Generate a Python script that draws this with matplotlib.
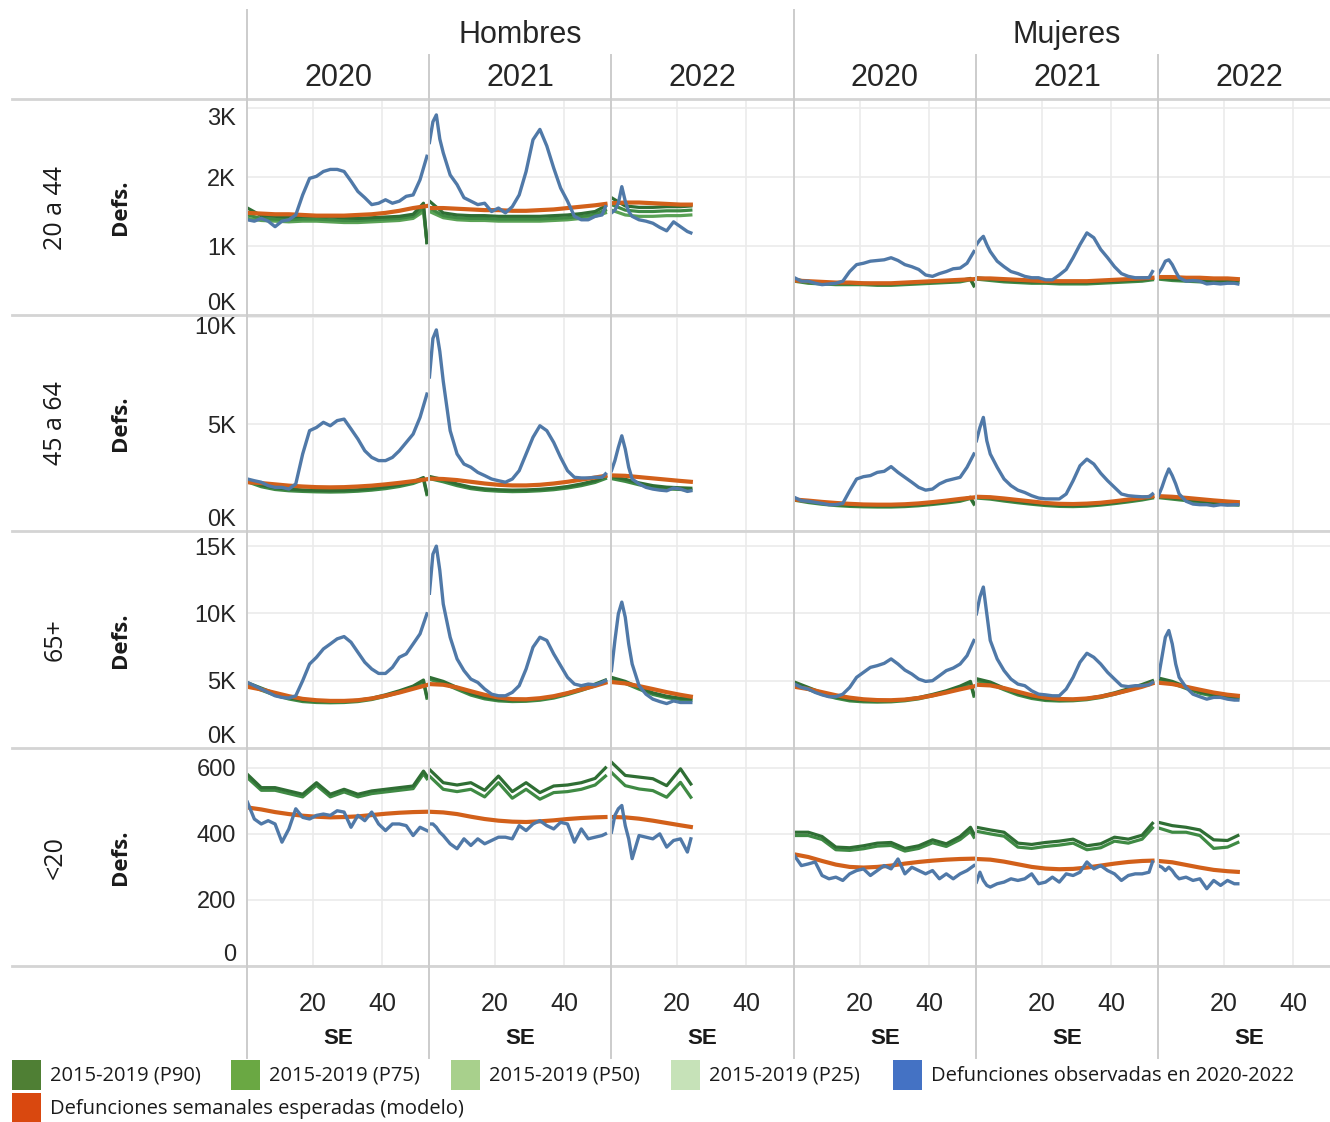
import matplotlib
matplotlib.use('Agg')
import matplotlib.pyplot as plt
from matplotlib.lines import Line2D
from matplotlib.patches import Rectangle

sexes = ['Hombres', 'Mujeres']
years = ['2020', '2021', '2022']
ages = ['20 a 44', '45 a 64', '65+', '<20']

# semanas epidemiologicas (SE) en que se leyo cada serie
weeks_obs = {
    '2020': list(range(1, 54, 2)),
    '2021': [1, 2, 3, 4] + list(range(5, 52, 2)) + [52],
    '2022': [1, 2, 3, 4, 5, 6] + list(range(7, 24, 2)) + [24],
}
weeks_ref = {
    '2020': list(range(1, 50, 4)) + [52, 53],
    '2021': list(range(1, 50, 4)) + [52],
    '2022': [1, 5, 9, 13, 17, 21, 24],
}
weeks_exp = {
    '2020': list(range(1, 50, 4)) + [53],
    '2021': list(range(1, 50, 4)) + [52],
    '2022': [1, 5, 9, 13, 17, 21, 24],
}

# ---- defunciones observadas (miles, excepto <20) : 2020 | 2021 | 2022
obs_h_20_44 = [1.38, 1.36, 1.40, 1.36, 1.28, 1.36, 1.38, 1.45, 1.74, 1.98, 2.01, 2.08, 2.11, 2.11, 2.08, 1.94,
               1.79, 1.70, 1.60, 1.62, 1.67, 1.62, 1.65, 1.72, 1.74, 1.96, 2.30,
               2.50, 2.80, 2.90, 2.55, 2.35, 2.03, 1.89, 1.70, 1.65, 1.60, 1.62, 1.50, 1.55, 1.48, 1.57,
               1.74, 2.08, 2.54, 2.69, 2.45, 2.13, 1.84, 1.65, 1.43, 1.38, 1.38, 1.43, 1.45, 1.57,
               1.48, 1.52, 1.62, 1.86, 1.65, 1.50, 1.43, 1.38, 1.36, 1.33, 1.27, 1.22, 1.35, 1.28, 1.21, 1.19]
obs_m_20_44 = [0.54, 0.49, 0.49, 0.46, 0.44, 0.45, 0.46, 0.49, 0.63, 0.73, 0.75, 0.78, 0.79, 0.80, 0.83, 0.79,
               0.73, 0.70, 0.66, 0.58, 0.56, 0.60, 0.63, 0.67, 0.68, 0.75, 0.92,
               1.02, 1.09, 1.14, 1.02, 0.92, 0.78, 0.70, 0.63, 0.60, 0.56, 0.54, 0.54, 0.51, 0.51, 0.58,
               0.66, 0.83, 1.02, 1.19, 1.12, 0.95, 0.83, 0.70, 0.60, 0.56, 0.54, 0.54, 0.54, 0.63,
               0.60, 0.68, 0.78, 0.80, 0.73, 0.63, 0.54, 0.49, 0.50, 0.49, 0.45, 0.46, 0.45, 0.46, 0.46, 0.45]
obs_h_45_64 = [2.43, 2.35, 2.28, 2.12, 2.04, 2.04, 1.96, 2.20, 3.60, 4.69, 4.84, 5.08, 4.92, 5.16, 5.23, 4.77,
               4.30, 3.75, 3.44, 3.29, 3.29, 3.44, 3.75, 4.14, 4.53, 5.31, 6.40,
               7.20, 9.00, 9.40, 8.40, 7.00, 4.69, 3.60, 3.13, 2.98, 2.74, 2.59, 2.43, 2.35, 2.28, 2.43,
               2.82, 3.60, 4.38, 4.92, 4.69, 4.14, 3.44, 2.82, 2.51, 2.48, 2.48, 2.51, 2.51, 2.67,
               2.82, 3.29, 3.91, 4.45, 3.83, 2.98, 2.43, 2.20, 2.04, 1.96, 1.91, 1.88, 2.01, 1.96, 1.85, 1.88]
obs_m_45_64 = [1.57, 1.42, 1.39, 1.34, 1.29, 1.23, 1.23, 1.29, 1.88, 2.43, 2.54, 2.59, 2.74, 2.79, 3.01, 2.74,
               2.51, 2.28, 2.04, 1.91, 1.96, 2.20, 2.35, 2.43, 2.51, 2.98, 3.60,
               4.22, 4.84, 5.31, 4.22, 3.60, 2.98, 2.43, 2.12, 1.91, 1.80, 1.65, 1.54, 1.50, 1.50, 1.50,
               1.73, 2.35, 3.05, 3.36, 3.13, 2.70, 2.35, 2.04, 1.73, 1.65, 1.62, 1.60, 1.60, 1.73,
               1.65, 2.04, 2.51, 2.90, 2.59, 2.20, 1.73, 1.39, 1.26, 1.23, 1.23, 1.18, 1.23, 1.21, 1.23, 1.23]
obs_h_65 = [4.87, 4.63, 4.38, 4.13, 3.88, 3.76, 3.71, 3.88, 5.00, 6.24, 6.74, 7.36, 7.73, 8.11, 8.28, 7.86,
            7.11, 6.37, 5.87, 5.54, 5.54, 5.99, 6.74, 6.99, 7.73, 8.48, 9.97,
            11.5, 14.4, 15.0, 13.2, 10.7, 8.23, 6.62, 5.75, 5.12, 4.87, 4.38, 4.00, 3.88, 3.88, 4.13,
            4.63, 5.87, 7.49, 8.23, 7.99, 6.99, 6.12, 5.25, 4.75, 4.63, 4.75, 4.70, 4.87, 5.00,
            5.75, 7.99, 9.97, 10.84, 9.72, 7.73, 6.24, 4.63, 4.00, 3.63, 3.45, 3.30, 3.50, 3.38, 3.38, 3.38]
obs_m_65 = [4.75, 4.50, 4.38, 4.13, 3.95, 3.81, 3.81, 4.00, 4.50, 5.25, 5.62, 5.99, 6.12, 6.29, 6.62, 6.24,
            5.79, 5.50, 5.12, 4.95, 5.00, 5.37, 5.75, 5.94, 6.24, 6.86, 7.99,
            9.97, 11.22, 11.96, 9.97, 7.99, 6.62, 5.75, 5.12, 4.75, 4.63, 4.25, 4.00, 3.95, 3.88, 3.88,
            4.38, 5.25, 6.37, 7.04, 6.74, 6.24, 5.62, 5.12, 4.63, 4.56, 4.63, 4.63, 4.70, 4.87,
            5.25, 6.74, 8.23, 8.73, 7.73, 6.24, 5.25, 4.50, 4.00, 3.81, 3.63, 3.76, 3.76, 3.63, 3.56, 3.56]
obs_h_u20 = [496, 445, 430, 440, 430, 375, 415, 476, 450, 445, 456, 460, 456, 470, 466, 420,
             456, 440, 466, 430, 410, 430, 430, 425, 395, 420, 410,
             430, 430, 420, 405, 395, 370, 355, 385, 365, 385, 370, 380, 390, 390, 385,
             425, 410, 430, 440, 425, 415, 435, 430, 375, 415, 385, 390, 395, 400,
             405, 456, 476, 486, 425, 385, 325, 395, 390, 385, 400, 360, 380, 385, 345, 385]
obs_m_u20 = [334, 304, 309, 315, 274, 264, 269, 259, 279, 289, 294, 274, 289, 304, 294, 324,
             279, 299, 289, 279, 289, 264, 279, 264, 279, 289, 304,
             254, 284, 259, 244, 239, 249, 254, 264, 259, 264, 279, 249, 254, 269, 254,
             279, 274, 284, 315, 294, 304, 289, 279, 259, 274, 279, 279, 284, 315,
             304, 299, 289, 299, 289, 274, 264, 269, 259, 264, 234, 259, 244, 259, 249, 249]

# ---- defunciones semanales esperadas (modelo)
exp_h_20_44 = [1.48, 1.47, 1.46, 1.46, 1.45, 1.44, 1.44, 1.44, 1.45, 1.46, 1.48, 1.51, 1.55, 1.58,
               1.55, 1.55, 1.54, 1.53, 1.52, 1.52, 1.51, 1.51, 1.52, 1.53, 1.55, 1.57, 1.59, 1.61,
               1.62, 1.63, 1.63, 1.62, 1.61, 1.60, 1.60]
exp_m_20_44 = [0.50, 0.49, 0.48, 0.47, 0.47, 0.46, 0.46, 0.46, 0.47, 0.48, 0.49, 0.50, 0.51, 0.52,
               0.53, 0.53, 0.52, 0.51, 0.50, 0.49, 0.49, 0.49, 0.49, 0.50, 0.51, 0.52, 0.53, 0.54,
               0.55, 0.55, 0.54, 0.54, 0.53, 0.53, 0.52]
exp_h_45_64 = [2.28, 2.24, 2.18, 2.12, 2.08, 2.05, 2.04, 2.05, 2.08, 2.12, 2.18, 2.25, 2.33, 2.42,
               2.45, 2.43, 2.38, 2.30, 2.22, 2.16, 2.13, 2.13, 2.16, 2.22, 2.30, 2.40, 2.50, 2.58,
               2.60, 2.58, 2.52, 2.46, 2.40, 2.34, 2.30]
exp_m_45_64 = [1.47, 1.42, 1.36, 1.31, 1.27, 1.24, 1.23, 1.23, 1.25, 1.29, 1.35, 1.42, 1.50, 1.57,
               1.60, 1.58, 1.52, 1.45, 1.38, 1.31, 1.27, 1.26, 1.28, 1.32, 1.39, 1.47, 1.55, 1.62,
               1.63, 1.60, 1.55, 1.49, 1.43, 1.38, 1.35]
exp_h_65 = [4.55, 4.35, 4.10, 3.85, 3.65, 3.55, 3.50, 3.50, 3.55, 3.68, 3.88, 4.12, 4.40, 4.68,
            4.75, 4.70, 4.50, 4.22, 3.95, 3.75, 3.63, 3.62, 3.70, 3.85, 4.08, 4.35, 4.62, 4.85,
            4.90, 4.80, 4.60, 4.38, 4.15, 3.95, 3.82]
exp_m_65 = [4.55, 4.38, 4.15, 3.92, 3.74, 3.62, 3.56, 3.55, 3.60, 3.72, 3.90, 4.12, 4.36, 4.58,
            4.70, 4.65, 4.45, 4.18, 3.92, 3.74, 3.64, 3.62, 3.68, 3.82, 4.03, 4.28, 4.55, 4.80,
            4.85, 4.75, 4.55, 4.33, 4.12, 3.96, 3.88]
exp_h_u20 = [480, 474, 466, 460, 455, 452, 450, 451, 453, 457, 461, 464, 466, 467,
             467, 465, 460, 452, 445, 440, 437, 436, 438, 441, 445, 448, 450, 451,
             451, 450, 446, 440, 433, 426, 421]
exp_m_u20 = [338, 330, 318, 307, 300, 298, 300, 304, 310, 315, 319, 322, 324, 325,
             324, 322, 316, 308, 300, 295, 293, 294, 298, 304, 310, 315, 318, 319,
             318, 314, 306, 298, 291, 287, 285]

# ---- percentiles 2015-2019
p90_h_20_44 = [1.55, 1.44, 1.43, 1.42, 1.43, 1.43, 1.42, 1.41, 1.40, 1.41, 1.42, 1.43, 1.46, 1.62, 1.05,
               1.65, 1.48, 1.45, 1.44, 1.44, 1.43, 1.43, 1.43, 1.43, 1.44, 1.45, 1.47, 1.50, 1.58,
               1.70, 1.58, 1.56, 1.56, 1.57, 1.57, 1.58]
p75_h_20_44 = [1.45, 1.40, 1.39, 1.38, 1.39, 1.39, 1.38, 1.37, 1.37, 1.38, 1.39, 1.40, 1.43, 1.55, 1.05,
               1.55, 1.44, 1.41, 1.40, 1.40, 1.39, 1.39, 1.39, 1.39, 1.40, 1.41, 1.43, 1.46, 1.52,
               1.60, 1.52, 1.50, 1.50, 1.51, 1.51, 1.52]
p50_h_20_44 = [1.40, 1.37, 1.36, 1.35, 1.36, 1.36, 1.35, 1.34, 1.34, 1.35, 1.36, 1.37, 1.40, 1.50, 1.05,
               1.50, 1.41, 1.38, 1.37, 1.37, 1.36, 1.36, 1.36, 1.36, 1.37, 1.38, 1.40, 1.43, 1.48,
               1.52, 1.45, 1.43, 1.43, 1.44, 1.44, 1.45]
p90_m_20_44 = [0.52, 0.48, 0.47, 0.46, 0.46, 0.46, 0.45, 0.45, 0.46, 0.47, 0.48, 0.49, 0.50, 0.53, 0.43,
               0.54, 0.52, 0.50, 0.49, 0.48, 0.48, 0.47, 0.47, 0.47, 0.48, 0.49, 0.50, 0.51, 0.53,
               0.54, 0.52, 0.51, 0.50, 0.50, 0.50, 0.50]
p75_m_20_44 = [0.49, 0.46, 0.45, 0.44, 0.44, 0.44, 0.43, 0.43, 0.44, 0.45, 0.46, 0.47, 0.48, 0.51, 0.42,
               0.52, 0.50, 0.48, 0.47, 0.46, 0.46, 0.45, 0.45, 0.45, 0.46, 0.47, 0.48, 0.49, 0.51,
               0.52, 0.50, 0.49, 0.48, 0.48, 0.48, 0.48]
p90_h_45_64 = [2.40, 2.15, 2.02, 1.96, 1.92, 1.90, 1.89, 1.90, 1.93, 1.98, 2.06, 2.16, 2.30, 2.50, 1.75,
               2.55, 2.40, 2.20, 2.05, 1.97, 1.93, 1.91, 1.92, 1.95, 2.00, 2.08, 2.20, 2.35, 2.55,
               2.55, 2.42, 2.25, 2.12, 2.05, 2.02, 2.00]
p75_h_45_64 = [2.30, 2.07, 1.94, 1.88, 1.85, 1.83, 1.82, 1.83, 1.86, 1.91, 1.98, 2.08, 2.22, 2.40, 1.70,
               2.45, 2.30, 2.12, 1.98, 1.90, 1.86, 1.84, 1.85, 1.88, 1.93, 2.01, 2.12, 2.27, 2.45,
               2.45, 2.32, 2.16, 2.04, 1.97, 1.94, 1.92]
p90_m_45_64 = [1.50, 1.38, 1.30, 1.24, 1.20, 1.18, 1.17, 1.17, 1.19, 1.23, 1.29, 1.36, 1.45, 1.58, 1.30,
               1.60, 1.55, 1.46, 1.38, 1.30, 1.24, 1.20, 1.19, 1.21, 1.26, 1.33, 1.42, 1.51, 1.60,
               1.62, 1.55, 1.48, 1.40, 1.33, 1.28, 1.26]
p75_m_45_64 = [1.44, 1.33, 1.25, 1.19, 1.15, 1.13, 1.12, 1.12, 1.14, 1.18, 1.24, 1.31, 1.39, 1.52, 1.25,
               1.54, 1.49, 1.40, 1.32, 1.25, 1.19, 1.15, 1.14, 1.16, 1.21, 1.28, 1.36, 1.45, 1.54,
               1.56, 1.49, 1.42, 1.34, 1.28, 1.23, 1.21]
p90_h_65 = [4.85, 4.45, 4.05, 3.75, 3.55, 3.48, 3.45, 3.47, 3.55, 3.70, 3.95, 4.25, 4.60, 5.05, 3.80,
            5.25, 4.95, 4.50, 4.05, 3.75, 3.60, 3.55, 3.57, 3.65, 3.82, 4.08, 4.40, 4.75, 5.05,
            5.25, 4.95, 4.50, 4.10, 3.85, 3.70, 3.65]
p75_h_65 = [4.70, 4.30, 3.92, 3.64, 3.45, 3.38, 3.36, 3.38, 3.45, 3.60, 3.84, 4.13, 4.47, 4.90, 3.70,
            5.10, 4.80, 4.36, 3.93, 3.65, 3.50, 3.45, 3.47, 3.55, 3.71, 3.97, 4.28, 4.62, 4.92,
            5.10, 4.80, 4.37, 3.98, 3.74, 3.60, 3.55]
p90_m_65 = [4.90, 4.50, 4.10, 3.80, 3.60, 3.52, 3.50, 3.52, 3.60, 3.75, 3.98, 4.25, 4.60, 4.95, 3.95,
            5.15, 4.90, 4.45, 4.05, 3.78, 3.62, 3.58, 3.60, 3.68, 3.85, 4.10, 4.40, 4.72, 5.00,
            5.20, 4.95, 4.55, 4.18, 3.95, 3.82, 3.75]
p75_m_65 = [4.75, 4.36, 3.98, 3.70, 3.50, 3.43, 3.41, 3.43, 3.51, 3.65, 3.88, 4.14, 4.48, 4.80, 3.85,
            5.00, 4.76, 4.33, 3.94, 3.68, 3.53, 3.49, 3.51, 3.59, 3.75, 3.99, 4.28, 4.60, 4.88,
            5.05, 4.80, 4.42, 4.07, 3.85, 3.72, 3.66]
p90_h_u20 = [580, 540, 540, 530, 520, 555, 520, 535, 520, 530, 535, 540, 545, 590, 575,
             595, 555, 548, 555, 532, 575, 528, 555, 525, 545, 548, 555, 568, 600,
             617, 577, 572, 567, 546, 597, 551]
p75_h_u20 = [570, 532, 532, 522, 512, 547, 512, 527, 512, 522, 527, 532, 537, 582, 567,
             575, 535, 528, 535, 512, 555, 508, 535, 505, 525, 528, 535, 548, 575,
             586, 546, 536, 531, 511, 556, 511]
p90_m_u20 = [405, 405, 392, 360, 358, 364, 372, 374, 356, 364, 382, 370, 392, 420, 400,
             420, 412, 405, 372, 368, 374, 378, 384, 364, 370, 390, 384, 396, 432,
             435, 425, 420, 412, 382, 380, 395]
p75_m_u20 = [395, 395, 383, 352, 350, 355, 363, 365, 348, 356, 373, 362, 383, 408, 390,
             408, 400, 393, 360, 356, 362, 366, 372, 352, 358, 378, 372, 384, 418,
             418, 405, 405, 395, 356, 360, 374]

panels = {
    ('Hombres', '20 a 44'): (obs_h_20_44, exp_h_20_44, {'P90': p90_h_20_44, 'P75': p75_h_20_44, 'P50': p50_h_20_44}),
    ('Mujeres', '20 a 44'): (obs_m_20_44, exp_m_20_44, {'P90': p90_m_20_44, 'P75': p75_m_20_44}),
    ('Hombres', '45 a 64'): (obs_h_45_64, exp_h_45_64, {'P90': p90_h_45_64, 'P75': p75_h_45_64}),
    ('Mujeres', '45 a 64'): (obs_m_45_64, exp_m_45_64, {'P90': p90_m_45_64, 'P75': p75_m_45_64}),
    ('Hombres', '65+'): (obs_h_65, exp_h_65, {'P90': p90_h_65, 'P75': p75_h_65}),
    ('Mujeres', '65+'): (obs_m_65, exp_m_65, {'P90': p90_m_65, 'P75': p75_m_65}),
    ('Hombres', '<20'): (obs_h_u20, exp_h_u20, {'P90': p90_h_u20, 'P75': p75_h_u20}),
    ('Mujeres', '<20'): (obs_m_u20, exp_m_u20, {'P90': p90_m_u20, 'P75': p75_m_u20}),
}

y_ticks = {'20 a 44': [0, 1, 2, 3], '45 a 64': [0, 5, 10], '65+': [0, 5, 10, 15], '<20': [0, 200, 400, 600]}
y_top = {'20 a 44': 3.116, '45 a 64': 10.05, '65+': 16.05, '<20': 657}
y_suffix = {'20 a 44': 'K', '45 a 64': 'K', '65+': 'K', '<20': ''}

legend_labels = ['2015-2019 (P90)', '2015-2019 (P75)', '2015-2019 (P50)', '2015-2019 (P25)',
                 'Defunciones observadas en 2020-2022', 'Defunciones semanales esperadas (modelo)']
legend_colors = ['#4f7f34', '#6aa843', '#a8d08c', '#c6e2b8', '#4472c4', '#d9480f']

line_green = {'P90': '#2f6e34', 'P75': '#3f8a44', 'P50': '#5aa255'}
c_obs = '#5079a8'
c_exp = '#d2601a'

W, H = 1330, 1122
row_tops = [100, 316, 532, 749]
row_hs = [215, 215, 216, 217]
col_lefts = [247, 429, 611, 794, 976, 1158]
col_w = 182

FONT = ['Liberation Sans', 'DejaVu Sans']
FONT2 = ['Open Sans', 'DejaVu Sans']
TXT = '#262626'


def split(values, weeks):
    out, i = {}, 0
    for y in years:
        n = len(weeks[y])
        out[y] = values[i:i + n]
        i += n
    return out


def fx(x):
    return x / W


def fy(y):
    return 1 - y / H


fig = plt.figure(figsize=(W / 100, H / 100), dpi=100)

for r, age in enumerate(ages):
    for s, sex in enumerate(sexes):
        obs_v, exp_v, ref_v = panels[(sex, age)]
        obs = split(obs_v, weeks_obs)
        exp = split(exp_v, weeks_exp)
        ref = {p: split(v, weeks_ref) for p, v in ref_v.items()}
        for k, year in enumerate(years):
            left = col_lefts[s * 3 + k]
            ax = fig.add_axes([fx(left), fy(row_tops[r] + row_hs[r]), col_w / W, row_hs[r] / H])
            for p in ['P50', 'P75', 'P90']:
                if p in ref:
                    ax.plot(weeks_ref[year], ref[p][year], color=line_green[p], lw=2.3)
            ax.plot(weeks_exp[year], exp[year], color=c_exp, lw=3.0)
            ax.plot(weeks_obs[year], obs[year], color=c_obs, lw=2.4)

            ax.set_xlim(0.87, 53.6)
            ax.set_ylim(0, y_top[age])
            ax.set_xticks([20, 40])
            ax.set_yticks(y_ticks[age])
            ax.grid(True, color='#ebebeb', lw=1.2)
            ax.set_axisbelow(True)
            for sp in ax.spines.values():
                sp.set_visible(False)
            ax.tick_params(length=0)

            if s == 0 and k == 0:
                ax.set_yticklabels(['{}{}'.format(t, y_suffix[age]) for t in y_ticks[age]],
                                   fontsize=17, family=FONT, color=TXT)
                ax.tick_params(axis='y', pad=8)
                labs = ax.get_yticklabels()
                labs[0].set_va('bottom')
                if y_ticks[age][-1] > 0.95 * y_top[age]:
                    labs[-1].set_va('top')
            else:
                ax.set_yticklabels([])

            if r == len(ages) - 1:
                ax.set_xticklabels(['20', '40'], fontsize=18, family=FONT, color=TXT)
                ax.tick_params(axis='x', pad=19)
                fig.text(fx(left + col_w / 2), fy(1038), 'SE', ha='center', va='center',
                         fontsize=16, fontweight='bold', family=FONT, color='#1a1a1a')
            else:
                ax.set_xticklabels([])

            if r == 0:
                fig.text(fx(left + col_w / 2), fy(78), year, ha='center', va='center',
                         fontsize=22, family=FONT, color=TXT)

    # etiquetas de fila
    yc = row_tops[r] + row_hs[r] / 2
    fig.text(fx(55), fy(yc), age, rotation=90, ha='center', va='center',
             fontsize=18, family=FONT2, color='#1a1a1a')
    fig.text(fx(120), fy(yc), 'Defs.', rotation=90, ha='center', va='center',
             fontsize=16, fontweight='bold', family=FONT2, color='#1a1a1a')

for s, sex in enumerate(sexes):
    cx = col_lefts[s * 3] + 3 * col_w / 2
    fig.text(fx(cx), fy(35), sex, ha='center', va='center', fontsize=22, family=FONT, color=TXT)

# separadores de filas y columnas
for y in [99, 315, 531, 748, 966]:
    fig.add_artist(Line2D([fx(12), fx(1330)], [fy(y), fy(y)], color='#d4d4d4', lw=2.0))
for x in [247, 794]:
    fig.add_artist(Line2D([fx(x), fx(x)], [fy(10), fy(1058)], color='#cccccc', lw=1.4))
for x in [429, 611, 976, 1158]:
    fig.add_artist(Line2D([fx(x), fx(x)], [fy(55), fy(1058)], color='#cccccc', lw=1.4))

# leyenda
legend_pos = [(12, 1060), (231, 1060), (451, 1060), (671, 1060), (893, 1060), (12, 1093)]
for (x, y), lab, col in zip(legend_pos, legend_labels, legend_colors):
    fig.add_artist(Rectangle((fx(x), fy(y + 30)), 29 / W, 30 / H, transform=fig.transFigure,
                             facecolor=col, edgecolor='none'))
    fig.text(fx(x + 38), fy(y + 16), lab, ha='left', va='center', fontsize=14.5, family=FONT2,
             color='#1a1a1a')

fig.savefig('out.png', dpi=100)
